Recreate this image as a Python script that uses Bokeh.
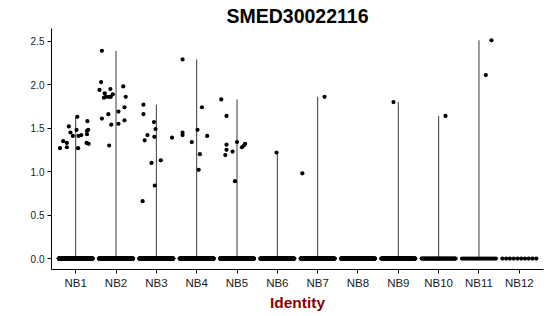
from bokeh.plotting import figure
from bokeh.models import FixedTicker, Range1d
from bokeh.embed import file_html
from bokeh.resources import INLINE
import numpy as np

categories = ["NB1", "NB2", "NB3", "NB4", "NB5", "NB6", "NB7", "NB8", "NB9", "NB10", "NB11", "NB12"]

# non-zero expression values per identity and their horizontal jitter
nz_group = (["NB1"] * 18 + ["NB2"] * 20 + ["NB3"] * 12 + ["NB4"] * 9 + ["NB5"] * 11
            + ["NB6"] * 1 + ["NB7"] * 2 + ["NB9"] * 1 + ["NB10"] * 1 + ["NB11"] * 2)
nz_value = [
    1.27, 1.35, 1.33, 1.28, 1.52, 1.45, 1.41, 1.63, 1.48, 1.27, 1.41, 1.42, 1.58, 1.47, 1.48, 1.43, 1.33, 1.32,
    2.39, 2.03, 1.94, 1.90, 1.95, 1.86, 1.85, 1.86, 1.86, 1.89, 1.98, 1.86, 1.61, 1.66, 1.69, 1.74, 1.54, 1.55, 1.59, 1.30,
    1.77, 1.66, 1.36, 1.42, 1.57, 1.49, 1.40, 1.39, 1.13, 1.10, 0.84, 0.66,
    2.29, 1.74, 1.48, 1.45, 1.42, 1.34, 1.41, 1.20, 1.02,
    1.83, 1.64, 1.31, 1.25, 1.19, 1.23, 1.34, 1.28, 1.30, 1.32, 0.89,
    1.22,
    0.98, 1.86,
    1.80,
    1.64,
    2.51, 2.11,
]
nz_jitter = [
    -0.39, -0.31, -0.22, -0.22, -0.17, -0.13, -0.07, 0.04, 0.02, 0.06, 0.07, 0.14, 0.29, 0.28, 0.31, 0.28, 0.27, 0.32,
    -0.35, -0.37, -0.41, -0.28, -0.14, -0.25, -0.30, -0.18, -0.13, -0.08, 0.18, 0.24, -0.35, -0.19, 0.06, 0.21, -0.12, 0.06, 0.21, -0.17,
    -0.32, -0.32, -0.29, -0.22, -0.06, -0.02, -0.05, 0.39, 0.11, -0.12, -0.04, -0.34,
    -0.35, 0.13, 0.02, -0.35, -0.35, -0.12, 0.26, 0.08, 0.05,
    -0.39, -0.26, -0.26, -0.26, -0.29, -0.11, 0.00, 0.12, 0.17, 0.20, -0.05,
    -0.02,
    -0.38, 0.17,
    -0.12,
    0.17,
    0.31, 0.17,
]
# number of cells with zero expression per identity (estimated from band density)
zero_counts = [300, 260, 300, 300, 300, 220, 220, 220, 160, 40, 18, 10]

# violin extent (max value per identity)
vmax = {}
for g, v in zip(nz_group, nz_value):
    vmax[g] = max(vmax.get(g, 0), v)

pos = {c: i + 1 for i, c in enumerate(categories)}

p = figure(width=550, height=316, output_backend="svg", toolbar_location=None,
           x_range=Range1d(0.4, 12.6), y_range=Range1d(-0.126, 2.646),
           min_border_left=51, min_border_right=7, min_border_top=28, min_border_bottom=47)

# violins (degenerate, rendered as thin lines)
vx = [pos[c] for c in categories if c in vmax]
vtop = [vmax[c] for c in categories if c in vmax]
p.segment(x0=vx, y0=[0] * len(vx), x1=vx, y1=vtop, line_color="#3a3a3a", line_width=1)

# zero points
zx, zy = [], []
for c, n in zip(categories, zero_counts):
    offs = np.linspace(-0.42, 0.42, n)
    zx.extend(pos[c] + offs)
    zy.extend([0.0] * n)
p.scatter(zx, zy, size=4.3, color="black", line_color=None)

# non-zero points
nx = [pos[g] + j for g, j in zip(nz_group, nz_jitter)]
p.scatter(nx, nz_value, size=4.2, color="black", line_color=None)

p.title.text = "SMED30022116"
p.title.align = "center"
p.title.text_font = "Liberation Sans"
p.title.text_font_style = "bold"
p.title.text_font_size = "19.5px"
p.title.text_color = "black"
p.title.standoff = 4

p.xgrid.visible = False
p.ygrid.visible = False
p.outline_line_color = None
p.background_fill_color = "white"
p.border_fill_color = "white"

p.xaxis.ticker = FixedTicker(ticks=list(range(1, 13)))
p.xaxis.major_label_overrides = {i + 1: c for i, c in enumerate(categories)}
p.yaxis.ticker = FixedTicker(ticks=[0, 0.5, 1.0, 1.5, 2.0, 2.5])
p.yaxis.major_label_overrides = {0: "0.0", 0.5: "0.5", 1.0: "1.0", 1.5: "1.5", 2.0: "2.0", 2.5: "2.5"}

for ax in (p.xaxis[0], p.yaxis[0]):
    ax.axis_line_color = "black"
    ax.axis_line_width = 1
    ax.major_tick_line_color = "black"
    ax.major_tick_in = 0
    ax.major_tick_out = 4
    ax.minor_tick_line_color = None
    ax.major_label_text_font = "Liberation Sans"
    ax.major_label_text_color = "#1a1a1a"
    ax.major_label_standoff = 3

p.xaxis.major_label_text_font_size = "11.5px"
p.yaxis.major_label_text_font_size = "10px"
p.xaxis.axis_label = "Identity"
p.xaxis.axis_label_text_font = "Liberation Sans"
p.xaxis.axis_label_text_font_style = "bold"
p.xaxis.axis_label_text_font_size = "15.5px"
p.xaxis.axis_label_text_color = "#8B0000"
p.xaxis.axis_label_standoff = 2

open("out.html", "w").write(file_html(p, INLINE))
